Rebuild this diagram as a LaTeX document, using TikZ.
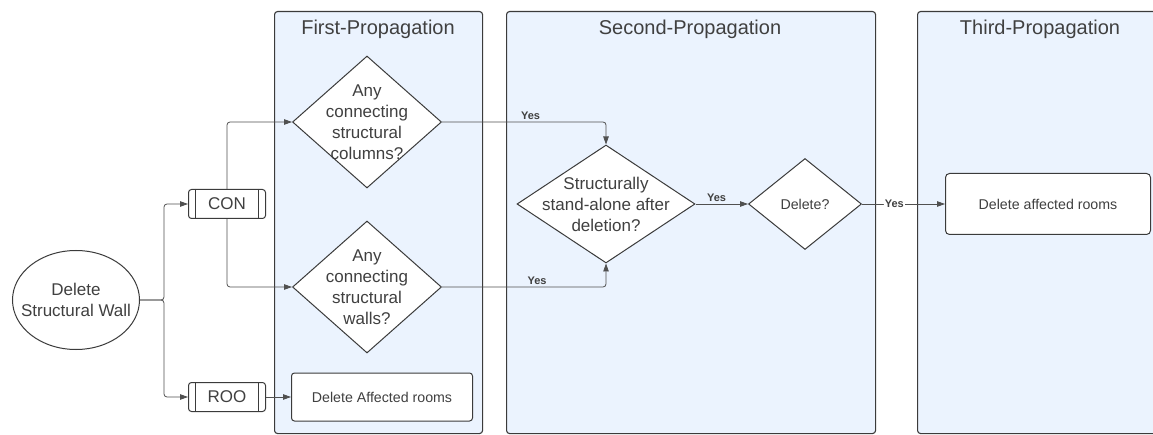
\documentclass[tikz,border=0pt]{standalone}
\usepackage{fontspec}
\setmainfont{Liberation Sans}
\usetikzlibrary{shapes.geometric,arrows.meta}
\definecolor{lanefill}{HTML}{EBF3FE}
\definecolor{edgecol}{HTML}{3B3B3B}
\definecolor{txt}{HTML}{404040}
\definecolor{wire}{HTML}{505050}
\begin{document}
\begin{tikzpicture}[x=1pt,y=-1pt,
  lane/.style={draw=edgecol, line width=1.1pt, fill=lanefill, rounded corners=3pt,
    anchor=north west, inner sep=0pt},
  lanetitle/.style={text=txt, font=\fontsize{20}{24}\selectfont},
  shapetext/.style={text=txt, align=center, font=\fontsize{17}{21}\selectfont},
  smalltext/.style={text=txt, align=center, font=\fontsize{14.2}{17}\selectfont},
  dia/.style={diamond, draw=edgecol, fill=white, line width=1pt, inner sep=0pt},
  box/.style={rectangle, draw=edgecol, fill=white, line width=1pt, rounded corners=3pt,
    inner sep=0pt},
  startshape/.style={ellipse, draw=edgecol, fill=white, line width=1pt, inner sep=0pt},
  conn/.style={draw=wire, line width=0.8pt, rounded corners=3pt,
    -{Triangle[length=8pt,width=5.5pt]}},
  yes/.style={text=txt, font=\bfseries\fontsize{11}{13}\selectfont, inner sep=2pt}]

\useasboundingbox (0,0) rectangle (1153,435);

% swimlanes
\node[lane, minimum width=208pt, minimum height=422pt] (lane1) at (274,11) {};
\node[lane, minimum width=369pt, minimum height=422pt] (lane2) at (506,11) {};
\node[lane, minimum width=246pt, minimum height=422pt] (lane3) at (917,11) {};
\node[lanetitle] (t1) at (378,29) {First-Propagation};
\node[lanetitle] (t2) at (690,29) {Second-Propagation};
\node[lanetitle] (t3) at (1040,29) {Third-Propagation};

% start
\node[startshape, minimum width=127pt, minimum height=99pt,
  label={[shapetext]center:{Delete\\Structural Wall}}] (start) at (76,300) {};

% predefined-process boxes
\node[box, minimum width=77pt, minimum height=29pt,
  label={[shapetext]center:CON}] (con) at (227,204) {};
\node[box, minimum width=77pt, minimum height=29pt,
  label={[shapetext]center:ROO}] (roo) at (227,397) {};
\foreach \n in {con,roo}{
  \draw[edgecol, line width=1pt] ([xshift=7pt]\n.north west) -- ([xshift=7pt]\n.south west);
  \draw[edgecol, line width=1pt] ([xshift=-8pt]\n.north east) -- ([xshift=-8pt]\n.south east);
}

% first propagation
\node[dia, minimum width=149pt, minimum height=132pt,
  label={[shapetext]center:{Any\\connecting\\structural\\columns?}}] (q1) at (367,122) {};
\node[dia, minimum width=149pt, minimum height=132pt,
  label={[shapetext]center:{Any\\connecting\\structural\\walls?}}] (q2) at (367,287) {};
\node[box, minimum width=181pt, minimum height=48pt,
  label={[smalltext]center:Delete Affected rooms}] (dela) at (382,397) {};

% second propagation
\node[dia, minimum width=178pt, minimum height=118pt,
  label={[shapetext]center:{Structurally\\stand-alone after\\deletion?}}] (q3) at (606,204) {};
\node[dia, minimum width=113pt, minimum height=91pt,
  label={[smalltext]center:Delete?}] (q4) at (805,204) {};

% third propagation
\node[box, minimum width=205pt, minimum height=61pt, rounded corners=4pt,
  label={[smalltext]center:Delete affected rooms}] (fin) at (1048,204) {};

% connectors
\draw[conn] (start.east) -- ++(24,0) |- (con.west);
\draw[conn] (start.east) -- ++(24,0) |- (roo.west);
\draw[conn] (con.north) |- (q1.west);
\draw[conn] (con.south) |- (q2.west);
\draw[conn] (roo.east) -- (dela.west);
\draw[conn] (q1.east) -| node[yes, pos=0.27, above] {Yes} (q3.north);
\draw[conn] (q2.east) -| node[yes, pos=0.29, above] {Yes} (q3.south);
\draw[conn] (q3.east) -- node[yes, pos=0.4, above] {Yes} (q4.west);
\draw[conn] (q4.east) -- node[yes, pos=0.39, fill=white, inner sep=1pt] {Yes} (fin.west);
\end{tikzpicture}
\end{document}
